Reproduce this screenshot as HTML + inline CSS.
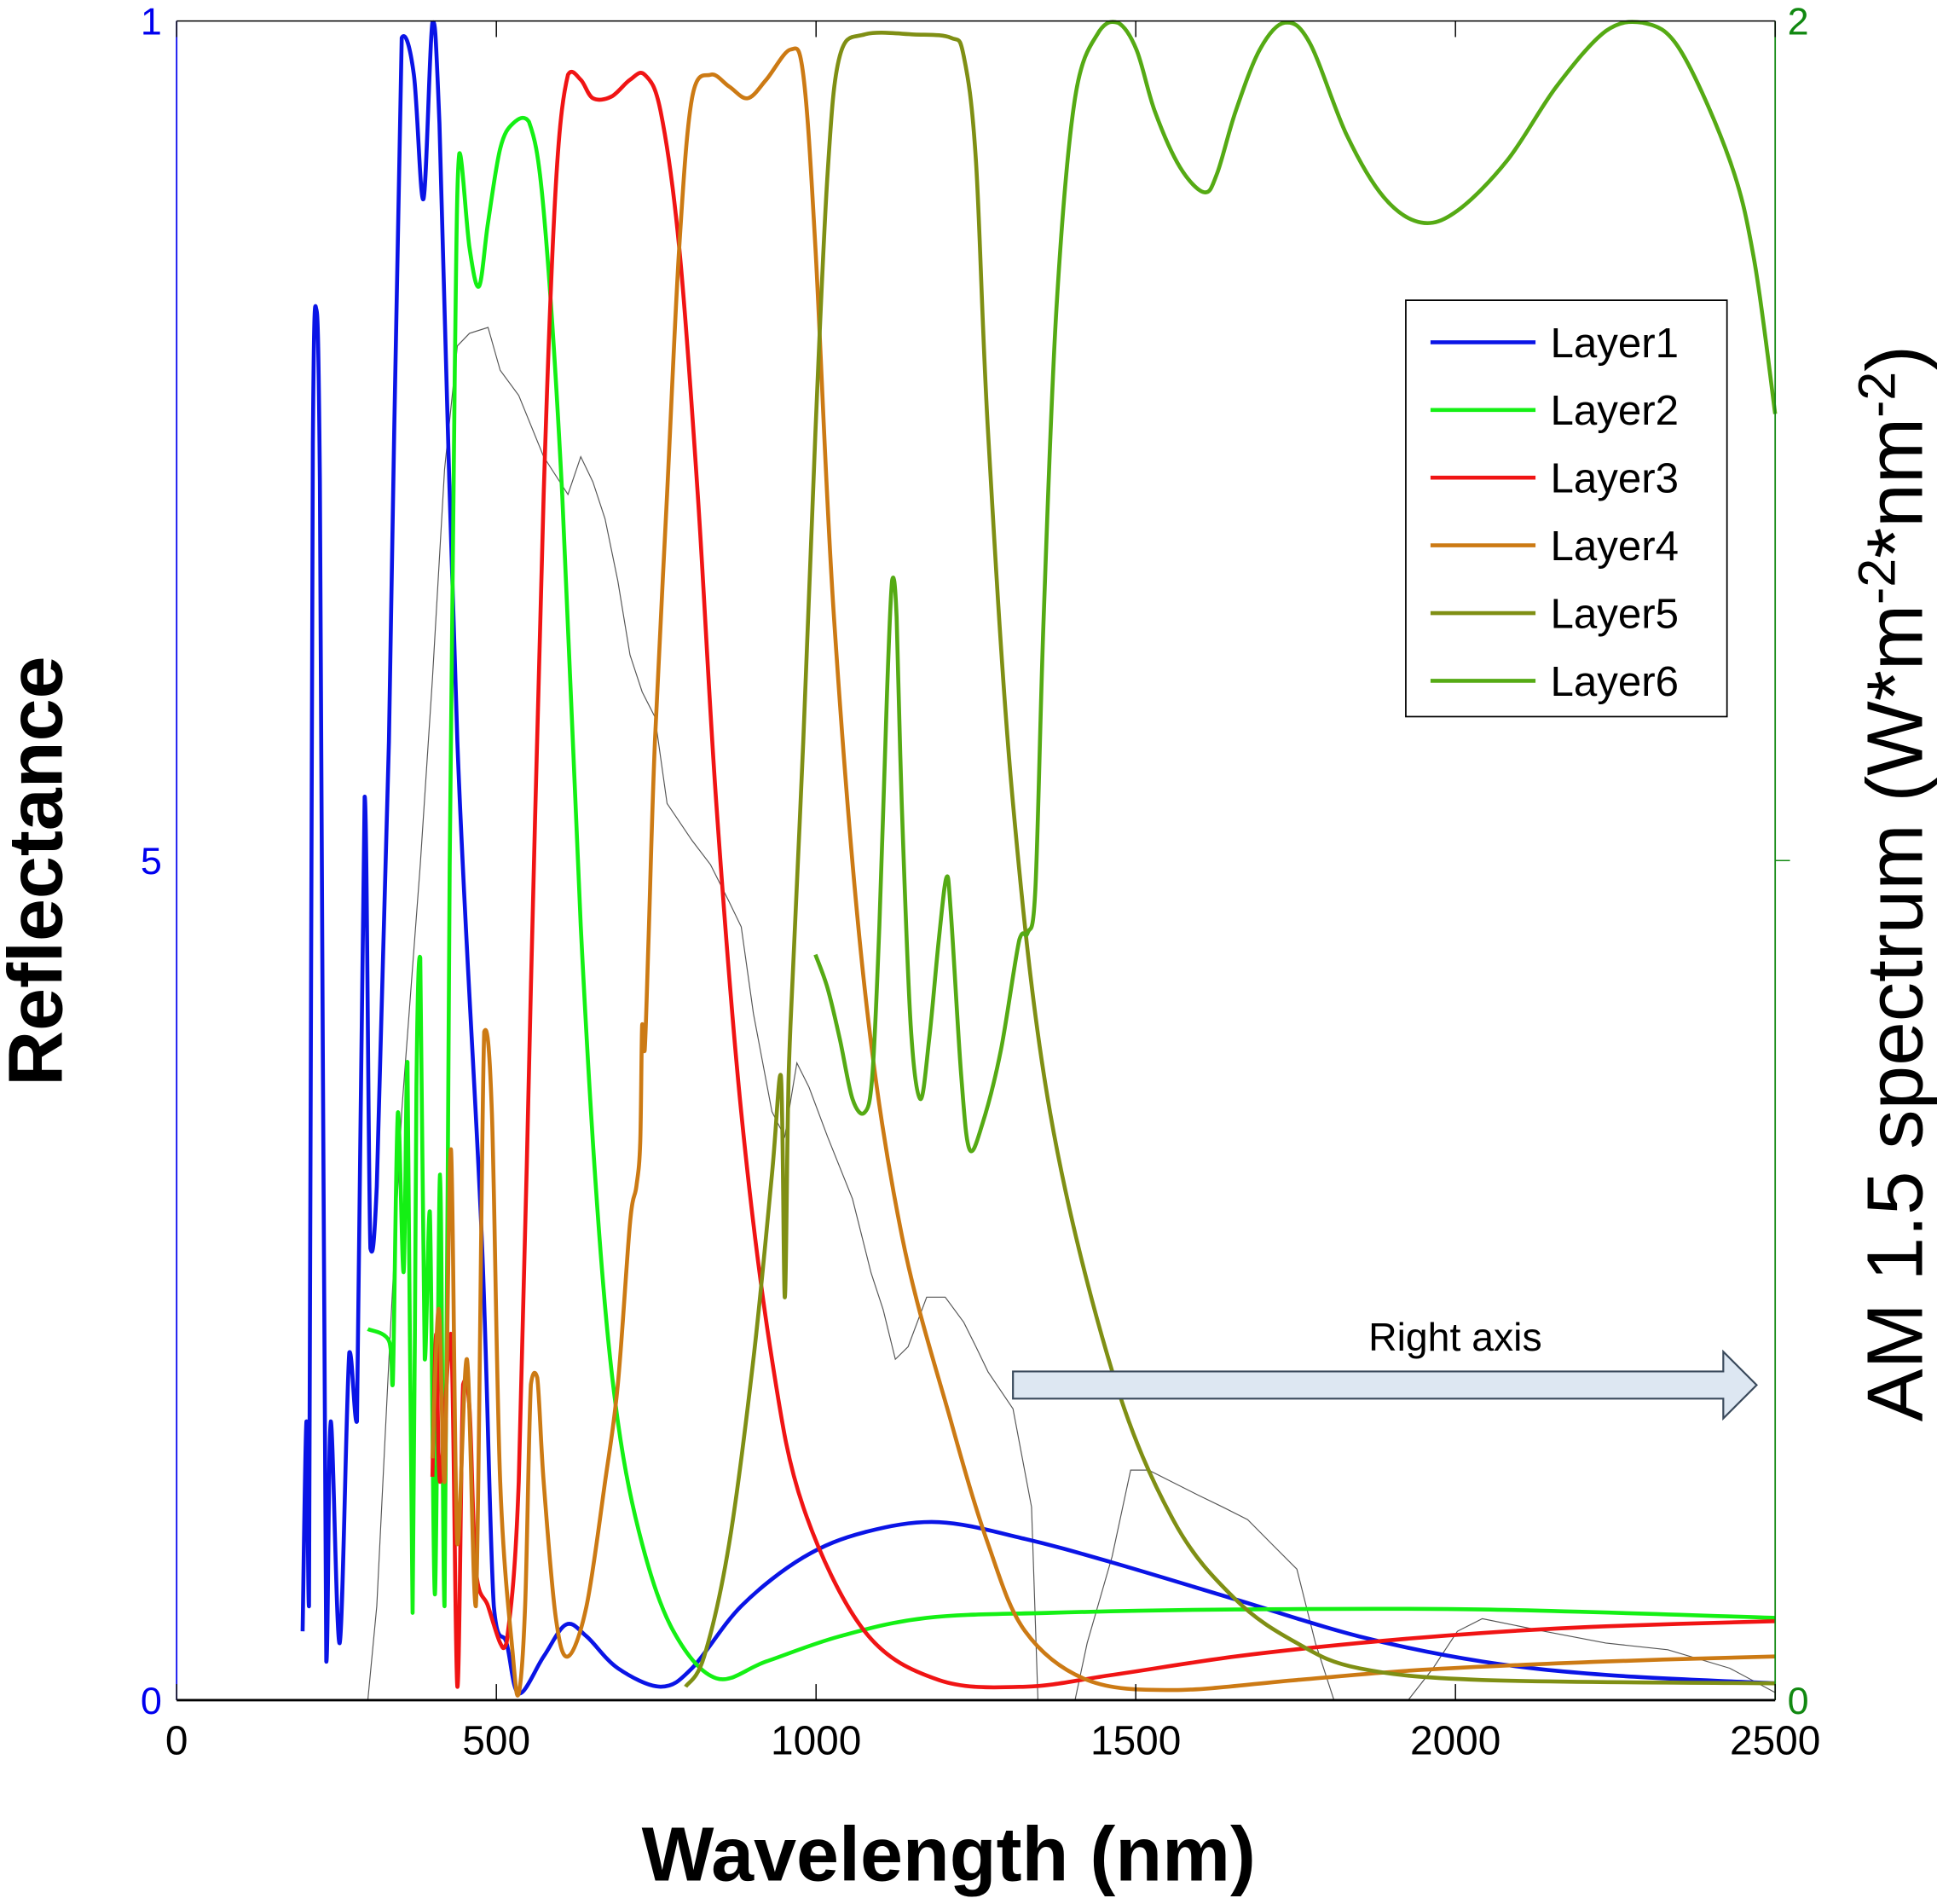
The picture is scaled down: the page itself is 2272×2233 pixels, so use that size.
<!DOCTYPE html>
<html><head><meta charset="utf-8">
<style>
html,body{margin:0;padding:0;background:#fff;}
svg{display:block;}
text{font-family:"Liberation Sans",Arial,sans-serif;}
</style></head>
<body>
<svg id="chart" width="2272" height="2233" viewBox="0 0 1568 1541" preserveAspectRatio="none" xmlns="http://www.w3.org/2000/svg">
<g id="plot"></g>
<g id="axes"></g>
</svg>
<script>
// ---- data (wavelength nm, reflectance 0-1) ----
const layer1WL = [197,203,207,213,218,224,234,241,255,270,282,294,303,313,332,352,371,386,400,411,439,477,496,516,535,574,609,641,690,757,806,883,980,1076,1192,1327,1463,1656,1849,2042,2235,2500];
const layer1R  = [.041,.166,.056,.748,.829,.726,.023,.166,.034,.207,.166,.538,.269,.306,.571,.990,.968,.894,.999,.939,.571,.277,.056,.034,.004,.026,.045,.038,.019,.008,.019,.056,.085,.100,.106,.096,.082,.060,.038,.023,.015,.010];
const layer2WL = [299,332,338,346,355,361,369,375,381,388,396,404,412,419,427,435,442,458,473,487,506,526,551,574,603,632,661,690,728,777,844,922,1037,1173,1366,1656,2042,2500];
const layer2R  = [.221,.214,.188,.350,.255,.380,.052,.365,.442,.203,.291,.063,.313,.056,.497,.792,.921,.865,.842,.880,.924,.939,.940,.887,.718,.461,.277,.166,.093,.041,.013,.023,.038,.049,.052,.054,.054,.049];
const layer3WL = [400,406,412,429,439,448,458,468,487,506,516,535,554,574,593,612,632,651,680,709,732,757,786,815,844,883,931,980,1076,1192,1327,1463,1656,1849,2042,2235,2500];
const layer3R  = [.133,.218,.130,.218,.008,.188,.174,.078,.056,.034,.034,.130,.424,.718,.902,.968,.965,.954,.955,.965,.968,.946,.865,.718,.534,.350,.203,.115,.041,.012,.008,.015,.026,.034,.040,.044,.047];
const layer4WL = [400,410,419,429,439,454,468,481,493,506,526,535,545,554,564,574,593,612,641,670,690,709,719,725,728,732,738,748,767,786,806,835,864,893,922,960,980,999,1028,1076,1134,1211,1269,1327,1424,1559,1752,1946,2235,2500];
const layer4R  = [.144,.233,.130,.328,.093,.203,.056,.398,.350,.130,.026,.004,.056,.188,.192,.130,.049,.026,.056,.130,.188,.284,.306,.332,.402,.387,.453,.571,.718,.865,.954,.968,.961,.954,.965,.983,.968,.865,.645,.424,.277,.166,.093,.041,.012,.006,.012,.018,.023,.026];
const layer5WL = [796,825,864,902,931,945,951,956,960,980,999,1018,1037,1076,1153,1211,1231,1250,1269,1308,1366,1463,1559,1656,1752,1849,2042,2500];
const layer5R  = [.008,.026,.093,.203,.313,.372,.240,.350,.402,.571,.755,.909,.979,.992,.992,.990,.979,.917,.755,.534,.350,.196,.107,.060,.034,.019,.012,.010];
const layer6WL = [999,1018,1037,1057,1076,1088,1099,1111,1119,1126,1134,1148,1163,1177,1192,1204,1211,1227,1240,1260,1289,1318,1331,1343,1356,1376,1405,1443,1472,1501,1530,1569,1607,1627,1656,1694,1733,1772,1830,1888,1946,2003,2081,2158,2235,2293,2351,2429,2467,2500];
const layer6R  = [.444,.424,.394,.358,.350,.372,.461,.600,.667,.645,.534,.402,.358,.394,.453,.490,.468,.372,.328,.343,.387,.453,.457,.483,.645,.829,.954,.994,.999,.983,.946,.913,.898,.909,.946,.983,.999,.987,.932,.895,.880,.887,.917,.961,.994,.999,.983,.917,.858,.766];
// AM1.5 spectrum (right axis, 0-2)
const amWL  = [299,313,332,352,381,400,419,439,458,487,506,535,574,612,632,651,670,690,709,728,748,767,806,835,864,883,902,931,951,970,989,1018,1057,1086,1105,1124,1144,1173,1202,1231,1250,1269,1308,1337,1347,1405,1424,1463,1492,1520,1559,1598,1636,1675,1714,1752,1781,1810,1926,1965,2003,2042,2139,2235,2332,2429,2500];
const amVal = [0,.112,.406,.701,.995,1.216,1.466,1.613,1.628,1.635,1.584,1.554,1.481,1.436,1.481,1.451,1.407,1.333,1.245,1.201,1.171,1.068,1.024,.995,.951,.921,.818,.701,.671,.759,.730,.671,.597,.509,.465,.406,.421,.480,.480,.450,.421,.391,.347,.230,0,0,.068,.171,.274,.274,.259,.244,.230,.215,.185,.156,.068,0,0,.038,.082,.097,.082,.068,.060,.038,.009];
const xTicks = [0,500,1000,1500,2000,2500];
const xTickLabels = ["0","500","1000","1500","2000","2500"];
const leftTicks = [1,0.5,0];
const leftTickLabels = ["1","5","0"];
const rightTicks = [2,0];
const rightTickLabels = ["2","0"];
const legendLabels = ["Layer1","Layer2","Layer3","Layer4","Layer5","Layer6"];

const X0=143,X1=1437,Y0=1376,Y1=17;
const xs = w => X0 + (w/2500)*(X1-X0);
const yL = r => Y0 - r*(Y0-Y1);
const yR = v => Y0 - (v/2)*(Y0-Y1);
const NS="http://www.w3.org/2000/svg";
const plot=document.getElementById('plot'), axes=document.getElementById('axes');
function mk(tag, attrs, parent){const e=document.createElementNS(NS,tag);for(const k in attrs)e.setAttribute(k,attrs[k]);parent.appendChild(e);return e;}
function smooth(pts){
  let d=`M${pts[0][0]},${pts[0][1]}`;
  for(let i=0;i<pts.length-1;i++){
    const p0=pts[Math.max(0,i-1)],p1=pts[i],p2=pts[i+1],p3=pts[Math.min(pts.length-1,i+2)];
    const lo=Math.min(p1[1],p2[1]), hi=Math.max(p1[1],p2[1]);
    const cl=v=>Math.max(lo-6,Math.min(hi+6,v));
    const c1=[p1[0]+(p2[0]-p0[0])/6,cl(p1[1]+(p2[1]-p0[1])/6)];
    const c2=[p2[0]-(p3[0]-p1[0])/6,cl(p2[1]-(p3[1]-p1[1])/6)];
    c1[1]=Math.max(Y1,Math.min(Y0,c1[1]));c2[1]=Math.max(Y1,Math.min(Y0,c2[1]));
    d+=` C${c1[0]},${c1[1]} ${c2[0]},${c2[1]} ${p2[0]},${p2[1]}`;
  }
  return d;
}
// spectrum
const amPts=amWL.map((w,i)=>[xs(w),yR(amVal[i])]);
const am=mk('path',{d:'M'+amPts.map(p=>p.join(',')).join(' L'),fill:'none',stroke:'#555','stroke-width':0.8},plot);


const series=[[layer1WL,layer1R,'#0a14e6'],[layer2WL,layer2R,'#14f014'],[layer3WL,layer3R,'#f01414'],[layer4WL,layer4R,'#cc7a14'],[layer5WL,layer5R,'#7f8f14'],[layer6WL,layer6R,'#55aa14']];
series.forEach((s,k)=>{
  const pts=s[0].map((w,i)=>[xs(w),yL(s[1][i])]);
  const p=mk('path',{d:smooth(pts),fill:'none',stroke:s[2],'stroke-width':3.2,'stroke-linejoin':'round'},plot);
  
  
});
// axes
let e=mk('line',{x1:X0,y1:Y1,x2:X1,y2:Y1,stroke:'#000','stroke-width':1},axes);


e=mk('line',{x1:X0,y1:Y0,x2:X1,y2:Y0,stroke:'#000','stroke-width':2},axes);


e=mk('line',{x1:X0,y1:Y1,x2:X0,y2:Y0,stroke:'#0000ee','stroke-width':1.2},axes);


e=mk('line',{x1:X1,y1:Y1,x2:X1,y2:Y0,stroke:'#118811','stroke-width':1.2},axes);


xTicks.forEach((t,i)=>{
  const x=xs(t);
  let l=mk('line',{x1:x,y1:Y0,x2:x,y2:Y0-13,stroke:'#000','stroke-width':1},axes);
  
  
  l=mk('line',{x1:x,y1:Y1,x2:x,y2:Y1+13,stroke:'#000','stroke-width':1},axes);
  
  
  const tx=mk('text',{x:x,y:1420,'font-size':33,'text-anchor':'middle',fill:'#000'},axes);
  tx.textContent=xTickLabels[i];
  
  
});
leftTicks.forEach((t,i)=>{
  const tx=mk('text',{x:131,y:yL(t)+11,'font-size':31,'text-anchor':'end',fill:'#0000ee'},axes);
  tx.textContent=leftTickLabels[i];
  
  
});
rightTicks.forEach((t,i)=>{
  const tx=mk('text',{x:1447,y:yR(t)+11,'font-size':31,'text-anchor':'start',fill:'#118811'},axes);
  tx.textContent=rightTickLabels[i];
  
  
});
e=mk('line',{x1:X1,y1:yR(1),x2:X1+12,y2:yR(1),stroke:'#118811','stroke-width':1},axes);


// legend
const leg=mk('g',{},axes);


mk('rect',{x:1138,y:243,width:260,height:337,fill:'#fff',stroke:'#000','stroke-width':1.2},leg);
legendLabels.forEach((lab,i)=>{
  const y=277+i*54.8;
  const g=mk('g',{},leg);
  
  
  mk('line',{x1:1158,y1:y,x2:1243,y2:y,stroke:series[i][2],'stroke-width':3.2},g);
  const t=mk('text',{x:1255,y:y+12,'font-size':34,fill:'#000'},g);
  t.textContent=lab;
});
</script>
<svg style="position:absolute;left:0;top:0" width="2272" height="2233" viewBox="0 0 1568 1541" preserveAspectRatio="none" xmlns="http://www.w3.org/2000/svg">
  <text transform="translate(50,705) rotate(-90)" text-anchor="middle" font-size="62" font-weight="bold" fill="#000">Reflectance</text>
  <text transform="translate(1556,715) rotate(-90)" text-anchor="middle" font-size="64" fill="#000">AM 1.5 spectrum (W*m<tspan dy="-22" font-size="42">-2</tspan><tspan dy="22">*nm</tspan><tspan dy="-22" font-size="42">-2</tspan><tspan dy="22">)</tspan></text>
  <text x="768" y="1522" text-anchor="middle" font-size="62" font-weight="bold" fill="#000">Wavelength (nm)</text>
  <text x="1178" y="1093" text-anchor="middle" font-size="32" fill="#000">Right axis</text>
  <path d="M820,1110 L1395,1110 L1395,1094 L1422,1121 L1395,1148 L1395,1132 L820,1132 Z" fill="#dde7f2" stroke="#3a4a5c" stroke-width="1.5"/>
</svg>
</body></html>
